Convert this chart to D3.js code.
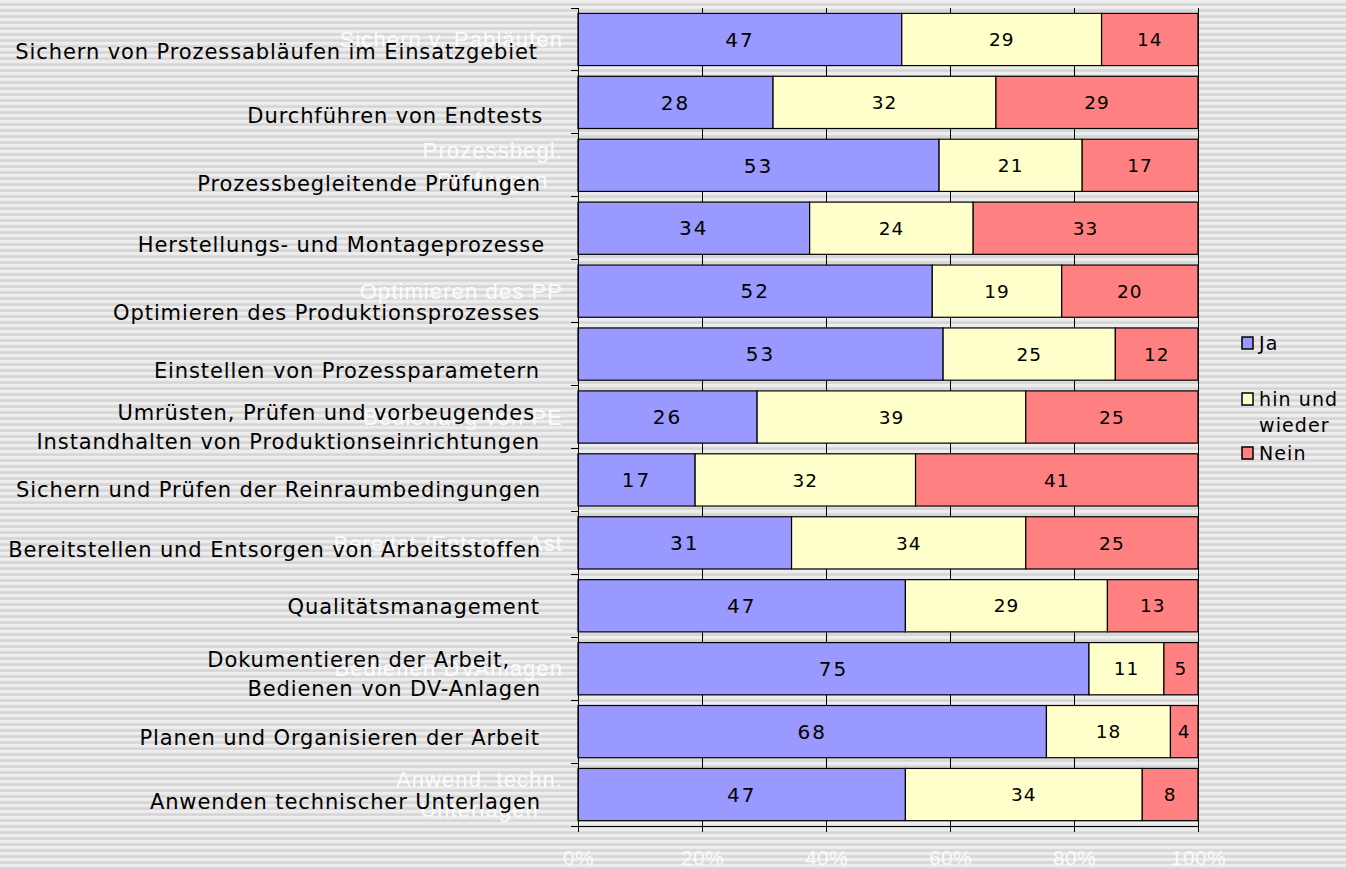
<!DOCTYPE html>
<html>
<head>
<meta charset="utf-8">
<script src="https://cdn.jsdelivr.net/npm/d3@7/dist/d3.min.js"></script>
<style>
  html, body { margin: 0; padding: 0; background: #e4e4e4; }
  svg { display: block; }
</style>
</head>
<body>
<svg id="chart" width="1346" height="869"></svg>
<script>
// Survey answers per activity: counts of "Ja", "hin und wieder", "Nein"
const activities = [
  "Sichern von Prozessabläufen im Einsatzgebiet",
  "Durchführen von Endtests",
  "Prozessbegleitende Prüfungen",
  "Herstellungs- und Montageprozesse",
  "Optimieren des Produktionsprozesses",
  "Einstellen von Prozessparametern",
  "Umrüsten, Prüfen und vorbeugendes\nInstandhalten von Produktionseinrichtungen",
  "Sichern und Prüfen der Reinraumbedingungen",
  "Bereitstellen und Entsorgen von Arbeitsstoffen",
  "Qualitätsmanagement",
  "Dokumentieren der Arbeit,\nBedienen von DV-Anlagen",
  "Planen und Organisieren der Arbeit",
  "Anwenden technischer Unterlagen"
];
// Short axis names (the axis only prints every second one)
const axisNames = [
  "Sichern v. Pabläufen", "", "Prozessbegl.\nPrüfungen", "", "Optimieren des PP", "",
  "Bedienung von PE", "", "Bereitst./Entsorg. Ast", "", "Bedienen DVAnlagen", "",
  "Anwend. techn.\nUnterlagen"
];
const seriesNames = ["Ja", "hin und wieder", "Nein"];
const ja           = [47, 28, 53, 34, 52, 53, 26, 17, 31, 47, 75, 68, 47];
const hinUndWieder = [29, 32, 21, 24, 19, 25, 39, 32, 34, 29, 11, 18, 34];
const nein         = [14, 29, 17, 33, 20, 12, 25, 41, 25, 13, 5, 4, 8];
const xTicks = [0, 0.2, 0.4, 0.6, 0.8, 1];

// Vertical nudges (px) of the long activity names relative to their bar centre
const nameNudge = [12, 13, 18, 16, 21, 16, 10, 10, 7, 1, 5, 6, 7];
// Right edge of each name line
const nameRight = [[538], [543], [541], [545], [540], [540], [535, 540], [541], [541], [540], [510, 541], [540], [541]];

const colors = ["#9999ff", "#ffffcc", "#ff8080"];

const svg = d3.select("#chart");
const W = 1346, H = 869;

// striped backdrop
const defs = svg.append("defs");
const pat = defs.append("pattern").attr("id", "stripes")
  .attr("patternUnits", "userSpaceOnUse").attr("width", 8).attr("height", 6);
const grad = defs.append("linearGradient").attr("id", "stripeGrad")
  .attr("x1", 0).attr("y1", 0).attr("x2", 0).attr("y2", 1);
[["0%", "#eeeeee"], ["40%", "#ececec"], ["65%", "#d6d6d6"], ["85%", "#d2d2d2"], ["100%", "#e2e2e2"]]
  .forEach(([o, c]) => grad.append("stop").attr("offset", o).attr("stop-color", c));
pat.append("rect").attr("width", 8).attr("height", 6).attr("fill", "url(#stripeGrad)");
svg.append("rect").attr("width", W).attr("height", H).attr("fill", "url(#stripes)");

const x = d3.scaleLinear().domain([0, 1]).range([578, 1198]);
const y = d3.scaleBand().domain(d3.range(activities.length)).range([8, 826])
  .paddingInner(0.17).paddingOuter(0.085);

// rows as shares of the row total
const rows = activities.map((a, i) => {
  const vals = [ja[i], hinUndWieder[i], nein[i]];
  const tot = d3.sum(vals);
  let acc = 0;
  return vals.map((v, k) => {
    const seg = { i, k, v, x0: acc / tot, x1: (acc + v) / tot };
    acc += v;
    return seg;
  });
});

// vertical gridlines
svg.append("g").selectAll("line").data(xTicks.slice(1)).join("line")
  .attr("x1", d => x(d)).attr("x2", d => x(d))
  .attr("y1", 8).attr("y2", 826)
  .attr("stroke", "#000").attr("stroke-width", 1).attr("shape-rendering", "crispEdges");

// bars
const segs = rows.flat();
svg.append("g").selectAll("rect").data(segs).join("rect")
  .attr("x", d => x(d.x0)).attr("width", d => x(d.x1) - x(d.x0))
  .attr("y", d => y(d.i)).attr("height", y.bandwidth())
  .attr("fill", d => colors[d.k])
  .attr("stroke", "#000").attr("stroke-width", 1.2);

// value labels
svg.append("g").selectAll("text").data(segs).join("text")
  .attr("x", d => (x(d.x0) + x(d.x1)) / 2)
  .attr("y", d => y(d.i) + y.bandwidth() / 2)
  .attr("dy", "0.36em")
  .attr("text-anchor", "middle")
  .attr("font-family", "'DejaVu Sans', Verdana, sans-serif")
  .attr("font-size", d => d.k === 0 ? 20 : 18.5)
  .attr("letter-spacing", d => d.k === 0 ? 2 : 1)
  .attr("fill", "#000")
  .text(d => d.v);

// category axis: line and tick marks at the band boundaries
svg.append("line").attr("x1", 578).attr("x2", 578).attr("y1", 8).attr("y2", 826)
  .attr("stroke", "#000").attr("shape-rendering", "crispEdges");
const boundaries = d3.range(activities.length + 1).map(j => y.range()[0] + j * y.step());
svg.append("g").selectAll("line").data(boundaries).join("line")
  .attr("x1", 571).attr("x2", 578).attr("y1", d => d).attr("y2", d => d)
  .attr("stroke", "#000").attr("shape-rendering", "crispEdges");

// short axis names in white
const axisG = svg.append("g");
axisNames.forEach((n, i) => {
  if (!n) return;
  const lines = n.split("\n");
  const t = axisG.append("text")
    .attr("font-family", "'Liberation Sans', Arial, sans-serif")
    .attr("font-size", 22).attr("letter-spacing", 1.1)
    .attr("fill", "#ffffff").attr("fill-opacity", 0.9)
    .attr("text-anchor", "middle");
  const cy = y(i) + y.bandwidth() / 2;
  const lh = 30;
  lines.forEach((ln, j) => {
    t.append("tspan").attr("y", cy + (j - (lines.length - 1) / 2) * lh).attr("dy", "0.35em").text(ln);
  });
  const widths = [];
  t.selectAll("tspan").each(function () { widths.push(this.getComputedTextLength()); });
  const cx = 563 - d3.max(widths) / 2;
  t.selectAll("tspan").attr("x", cx);
});

// x axis
const xAxis = d3.axisBottom(x).tickValues(xTicks).tickSize(6).tickFormat(d3.format(".0%"));
const gx = svg.append("g").attr("transform", "translate(0,826)").call(xAxis);
gx.select(".domain").remove();
gx.selectAll(".tick line").attr("stroke", "#000").attr("shape-rendering", "crispEdges");
gx.selectAll(".tick text")
  .attr("y", 32).attr("dy", "0.35em")
  .attr("font-family", "'Liberation Sans', Arial, sans-serif")
  .attr("font-size", 21).attr("letter-spacing", 0.4)
  .attr("fill", "#ffffff").attr("fill-opacity", 0.85);
svg.append("line").attr("x1", 571).attr("x2", 1198).attr("y1", 826).attr("y2", 826)
  .attr("stroke", "#000").attr("shape-rendering", "crispEdges");

// long activity names
const nameG = svg.append("g");
activities.forEach((a, i) => {
  const lines = a.split("\n");
  const cy = y(i) + y.bandwidth() / 2 + nameNudge[i];
  const lh = 29;
  lines.forEach((ln, j) => {
    nameG.append("text")
      .attr("x", nameRight[i][j])
      .attr("y", cy + (j - (lines.length - 1) / 2) * lh)
      .attr("dy", "0.36em")
      .attr("text-anchor", "end")
      .attr("font-family", "'DejaVu Sans', Verdana, sans-serif")
      .attr("font-size", 21).attr("letter-spacing", 0.9)
      .attr("fill", "#000")
      .text(ln);
  });
});

// legend
const legend = svg.append("g");
const legendRows = [
  { k: 0, lines: ["Ja"], top: 337 },
  { k: 1, lines: ["hin und", "wieder"], top: 393 },
  { k: 2, lines: ["Nein"], top: 447 }
];
legendRows.forEach(r => {
  legend.append("rect").attr("x", 1242).attr("y", r.top).attr("width", 11).attr("height", 12)
    .attr("fill", colors[r.k]).attr("stroke", "#000").attr("stroke-width", 1.5);
  r.lines.forEach((ln, j) => {
    legend.append("text").attr("x", 1259).attr("y", r.top + 13 + j * 25.5)
      .attr("font-family", "'DejaVu Sans', Verdana, sans-serif")
      .attr("font-size", 19).attr("letter-spacing", 1.1)
      .attr("fill", "#000").text(ln);
  });
});
</script>
</body>
</html>
